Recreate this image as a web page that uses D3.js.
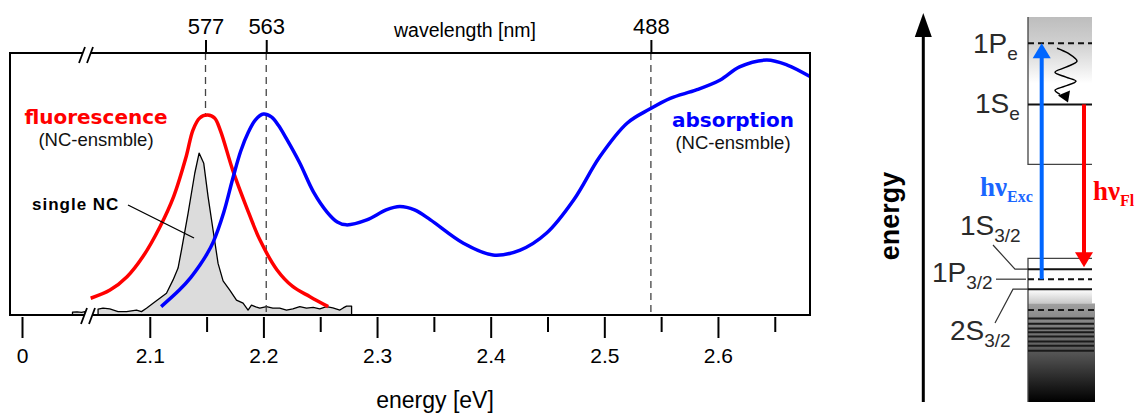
<!DOCTYPE html>
<html>
<head>
<meta charset="utf-8">
<script src="https://cdn.jsdelivr.net/npm/d3@7"></script>
<style>
  body { margin: 0; background: #fff; }
  svg { display: block; }
</style>
</head>
<body>
<div id="chart"></div>
<script>
// ---- data ----
var energyMajor = [0, 2.1, 2.2, 2.3, 2.4, 2.5, 2.6];
var energyMinor = [2.15, 2.25, 2.35, 2.45, 2.55, 2.65];
var wavelengthTicks = [577, 563, 488];

// fluorescence (NC ensemble)
var flEnergy = [2.048, 2.065, 2.080, 2.094, 2.109, 2.121, 2.132, 2.138, 2.144, 2.151, 2.157, 2.162,
                2.173, 2.185, 2.197, 2.212, 2.226, 2.241, 2.257];
var flIntensity = [0.064, 0.095, 0.146, 0.223, 0.337, 0.452, 0.604, 0.706, 0.752, 0.763, 0.752, 0.706,
                   0.553, 0.413, 0.286, 0.172, 0.108, 0.070, 0.032];

// absorption (NC ensemble)
var absEnergy = [2.110, 2.126, 2.136, 2.144, 2.150, 2.156, 2.165, 2.173, 2.180, 2.187, 2.193, 2.200, 2.207, 2.213,
                 2.220, 2.232, 2.244, 2.256, 2.265, 2.273, 2.291, 2.308, 2.320, 2.333, 2.347, 2.376, 2.402,
                 2.426, 2.449, 2.473, 2.496, 2.520, 2.540, 2.558, 2.581, 2.602, 2.619, 2.643, 2.661, 2.681];
var absIntensity = [0.032, 0.095, 0.143, 0.190, 0.230, 0.280, 0.390, 0.520, 0.625, 0.700, 0.745, 0.767, 0.756, 0.725,
                    0.675, 0.580, 0.470, 0.393, 0.355, 0.344, 0.363, 0.401, 0.414, 0.401, 0.363, 0.274, 0.229,
                    0.248, 0.312, 0.439, 0.604, 0.732, 0.786, 0.827, 0.859, 0.897, 0.947, 0.973, 0.954, 0.910];

// single NC spectrum (before and after the axis break)
var ncStubEnergy = [2.032, 2.036, 2.040, 2.043];
var ncStubIntensity = [0.011, 0.012, 0.010, 0.013];
var ncEnergy = [2.0545, 2.0589, 2.0648, 2.0721, 2.0795, 2.0883, 2.0927, 2.0971, 2.1029, 2.1088, 2.1147,
                2.1205, 2.1249, 2.1279, 2.1337, 2.1396, 2.1434, 2.1475, 2.1513, 2.1557, 2.1601, 2.1645,
                2.1704, 2.1763, 2.1821, 2.1865, 2.1895, 2.1933, 2.1968, 2.2027, 2.2083, 2.2144, 2.2203,
                2.2259, 2.2320, 2.2379, 2.2438, 2.2496, 2.2555, 2.2611, 2.2673, 2.2702, 2.2732, 2.2776];
var ncIntensity = [0.022, 0.026, 0.023, 0.013, 0.013, 0.019, 0.013, 0.026, 0.045, 0.064, 0.083,
                   0.134, 0.179, 0.248, 0.388, 0.541, 0.618, 0.579, 0.452, 0.324, 0.197, 0.130,
                   0.095, 0.057, 0.045, 0.019, 0.038, 0.031, 0.026, 0.032, 0.026, 0.026, 0.019,
                   0.023, 0.032, 0.026, 0.029, 0.023, 0.032, 0.027, 0.019, 0.027, 0.034, 0.034];

// energy level scheme (relative energy, 0 = bottom of scheme, 1 = top)
var electronLevels = ['1P', '1S'];
var electronSubs = ['e', 'e'];
var electronValues = [0.932, 0.773];
var electronDashed = [true, false];
var holeLevels = ['1S', '1P', '2S'];
var holeSubs = ['3/2', '3/2', '3/2'];
var holeValues = [0.345, 0.319, 0.293];
var holeDashed = [false, true, false];
var denseValues = [0.239, 0.217, 0.203, 0.191, 0.181, 0.170, 0.157, 0.146, 0.133];
var denseDashed = [true, false, false, false, false, false, false, false, false];
var electronBox = [0.617, 1.0];
var holeBox = [0, 0.373];
var continuumTop = 0.256;

var hc = 1240; // eV*nm

// ---- layout ----
var frame = {left: 10, right: 810, top: 53, bottom: 315};

var svg = d3.select('#chart')
    .append('svg')
    .attr('width', 1138)
    .attr('height', 414)
    .style('font-family', 'Arial, "Liberation Sans", sans-serif');

var defs = svg.append('defs');

var x = d3.scaleLinear()
    .domain([1.977, 2.681])
    .range([frame.left, frame.right]);

var y = d3.scaleLinear()
    .domain([0, 1])
    .range([frame.bottom, frame.top]);

// axis with a break: "0" sits left of the break
var axisX = d3.scaleLinear()
    .domain([0, 2.1, 2.681])
    .range([22, x(2.1), x(2.681)]);

function zip(es, is) {
    return es.map((e, k) => ({e: e, i: is[k]}));
}

var flData = zip(flEnergy, flIntensity);
var absData = zip(absEnergy, absIntensity);
var ncData = zip(ncEnergy, ncIntensity);
var ncStub = zip(ncStubEnergy, ncStubIntensity);

var smooth = d3.line()
    .x(d => x(d.e))
    .y(d => y(d.i))
    .curve(d3.curveCatmullRom.alpha(0.5));

var ncArea = d3.area()
    .x(d => x(d.e))
    .y0(y(0))
    .y1(d => y(d.i));

// single NC (grey filled)
[ncStub, ncData].forEach(function(arr) {
    svg.append('path')
        .datum(arr)
        .attr('d', ncArea)
        .attr('fill', '#dcdcdc')
        .attr('stroke', '#000')
        .attr('stroke-width', 1.3)
        .attr('stroke-linejoin', 'round');
});

// dashed wavelength markers
wavelengthTicks.forEach(function(l, k) {
    var xe = x(hc / l);
    var yEnd = k === 0 ? y(d3.max(flIntensity)) : frame.bottom;
    svg.append('line')
        .attr('x1', xe).attr('x2', xe)
        .attr('y1', frame.top).attr('y2', yEnd)
        .attr('stroke', '#444')
        .attr('stroke-width', 1.3)
        .attr('stroke-dasharray', '7,5');
});

// ensemble spectra
svg.append('path')
    .datum(flData)
    .attr('d', smooth)
    .attr('fill', 'none')
    .attr('stroke', '#ff0000')
    .attr('stroke-width', 3.5);

svg.append('path')
    .datum(absData)
    .attr('d', smooth)
    .attr('fill', 'none')
    .attr('stroke', '#0000ff')
    .attr('stroke-width', 3.5);

// frame
svg.append('rect')
    .attr('x', frame.left)
    .attr('y', frame.top)
    .attr('width', frame.right - frame.left)
    .attr('height', frame.bottom - frame.top)
    .attr('fill', 'none')
    .attr('stroke', '#000')
    .attr('stroke-width', 2);

// axis break marks
function breakMark(xc, yc) {
    svg.append('path')
        .attr('d', 'M' + (xc - 9) + ',' + (yc + 8) + 'L' + (xc - 3) + ',' + (yc - 8) +
                   'L' + (xc + 5) + ',' + (yc - 8) + 'L' + (xc - 1) + ',' + (yc + 8) + 'Z')
        .attr('fill', '#fff');
    [-6, 2].forEach(function(o) {
        svg.append('line')
            .attr('x1', xc + o - 3).attr('y1', yc + 8)
            .attr('x2', xc + o + 3).attr('y2', yc - 8)
            .attr('stroke', '#000')
            .attr('stroke-width', 1.8);
    });
}
breakMark(88, frame.top + 2);
breakMark(90, frame.bottom + 1);

// bottom axis (energy)
var bottomMajor = svg.append('g')
    .attr('transform', 'translate(0,' + (frame.bottom + 2) + ')')
    .call(d3.axisBottom(axisX)
        .tickValues(energyMajor)
        .tickSize(21)
        .tickPadding(10)
        .tickFormat(d => d === 0 ? '0' : d3.format('.1f')(d)));

var bottomMinor = svg.append('g')
    .attr('transform', 'translate(0,' + (frame.bottom + 2) + ')')
    .call(d3.axisBottom(axisX)
        .tickValues(energyMinor)
        .tickSize(15)
        .tickFormat(''));

// top axis (wavelength)
var topAxis = svg.append('g')
    .attr('transform', 'translate(0,' + frame.top + ')')
    .call(d3.axisTop(x)
        .tickValues(wavelengthTicks.map(l => hc / l))
        .tickSize(13)
        .tickPadding(6)
        .tickFormat((d, k) => wavelengthTicks[k]));

[bottomMajor, bottomMinor, topAxis].forEach(function(g) {
    g.select('.domain').remove();
    g.selectAll('.tick line').attr('stroke', '#000').attr('stroke-width', 2);
    g.selectAll('.tick text')
        .attr('fill', '#000')
        .style('font-family', 'Arial, "Liberation Sans", sans-serif')
        .style('font-size', '21px');
});
topAxis.selectAll('.tick text').style('font-size', '22px');

svg.append('text')
    .attr('x', 435).attr('y', 408)
    .attr('text-anchor', 'middle')
    .style('font-size', '23px')
    .text('energy [eV]');

svg.append('text')
    .attr('x', 465).attr('y', 37)
    .attr('text-anchor', 'middle')
    .style('font-size', '19.5px')
    .text('wavelength [nm]');

// curve labels
function seriesLabel(cx, y1, title, color) {
    svg.append('text')
        .attr('x', cx).attr('y', y1)
        .attr('text-anchor', 'middle')
        .attr('fill', color)
        .style('font-family', '"DejaVu Sans", Verdana, sans-serif')
        .style('font-weight', 'bold')
        .style('font-size', '20px')
        .text(title);
    svg.append('text')
        .attr('x', cx).attr('y', y1 + 22)
        .attr('text-anchor', 'middle')
        .attr('fill', '#111')
        .style('font-size', '18.5px')
        .text('(NC-ensmble)');
}
seriesLabel(96, 124, 'fluorescence', '#ff0000');
seriesLabel(733, 127, 'absorption', '#0000ff');

svg.append('text')
    .attr('x', 32).attr('y', 210)
    .attr('fill', '#000')
    .style('font-weight', 'bold')
    .style('font-size', '17px')
    .style('letter-spacing', '1px')
    .text('single NC');

svg.append('line')
    .attr('x1', 128).attr('y1', 205)
    .attr('x2', 194).attr('y2', 238)
    .attr('stroke', '#000')
    .attr('stroke-width', 1.3);

// ---- energy level scheme ----
var yD = d3.scaleLinear().domain([0, 1]).range([402, 17]);
var boxL = 1028, boxR = 1092, contR = 1095;

function grad(id, stops) {
    var g = defs.append('linearGradient')
        .attr('id', id)
        .attr('x1', 0).attr('y1', 0).attr('x2', 0).attr('y2', 1);
    stops.forEach(function(s) {
        g.append('stop').attr('offset', s[0]).attr('stop-color', s[1]);
    });
}
grad('eGrad', [['0%', '#bdbdbd'], ['18%', '#d0d0d0'], ['45%', '#ffffff'], ['100%', '#ffffff']]);
grad('hLight', [['0%', '#ffffff'], ['100%', '#c8c8c8']]);
grad('hDark', [['0%', '#a0a0a0'], ['45%', '#5e5e5e'], ['100%', '#000000']]);

// electron box
svg.append('rect')
    .attr('x', boxL).attr('y', yD(electronBox[1]))
    .attr('width', boxR - boxL)
    .attr('height', yD(electronBox[0]) - yD(electronBox[1]))
    .attr('fill', 'url(#eGrad)');
svg.append('path')
    .attr('d', 'M' + boxR + ',' + yD(electronBox[0]) + 'H' + boxL + 'V' + yD(electronBox[1]))
    .attr('fill', 'none')
    .attr('stroke', '#444')
    .attr('stroke-width', 1.3);

// hole box
svg.append('rect')
    .attr('x', boxL).attr('y', yD(holeValues[2]))
    .attr('width', boxR - boxL)
    .attr('height', yD(continuumTop) - yD(holeValues[2]))
    .attr('fill', 'url(#hLight)');
svg.append('rect')
    .attr('x', boxL).attr('y', yD(continuumTop))
    .attr('width', contR - boxL)
    .attr('height', yD(holeBox[0]) - yD(continuumTop))
    .attr('fill', 'url(#hDark)');
svg.append('path')
    .attr('d', 'M' + boxR + ',' + yD(holeBox[1]) + 'H' + boxL + 'V' + yD(holeBox[0]))
    .attr('fill', 'none')
    .attr('stroke', '#444')
    .attr('stroke-width', 1.3);

function levelLine(v, dashed, right, color) {
    svg.append('line')
        .attr('x1', boxL).attr('x2', right)
        .attr('y1', yD(v)).attr('y2', yD(v))
        .attr('stroke', color)
        .attr('stroke-width', 2)
        .attr('stroke-dasharray', dashed ? '6,4' : null);
}
electronValues.forEach((v, k) => levelLine(v, electronDashed[k], boxR, '#111'));
holeValues.forEach((v, k) => levelLine(v, holeDashed[k], boxR, '#111'));
denseValues.forEach((v, k) => levelLine(v, denseDashed[k], contR - 1, '#1a1a1a'));

// level labels
var electronLabelPos = [[973, 10], [975, 9]];
var holeLabelPos = [[960, 235], [932, 282], [950, 340]];
var holeLeaders = [[[993, 245], [1015], [1028]], [[996], [1026]], [[995, 323], [1013], [1028]]];

function levelLabel(tx, ty, main, sub) {
    var t = svg.append('text')
        .attr('x', tx).attr('y', ty)
        .attr('fill', '#2a2a2a')
        .style('font-size', '28px');
    t.append('tspan').text(main);
    t.append('tspan')
        .attr('dy', 7)
        .style('font-size', '19px')
        .text(sub);
}
electronLevels.forEach(function(n, k) {
    levelLabel(electronLabelPos[k][0], yD(electronValues[k]) + electronLabelPos[k][1], n, electronSubs[k]);
});
holeLevels.forEach(function(n, k) {
    levelLabel(holeLabelPos[k][0], holeLabelPos[k][1], n, holeSubs[k]);
    var pts = holeLeaders[k].map(p => [p[0], p.length > 1 ? p[1] : yD(holeValues[k])]);
    svg.append('path')
        .attr('d', d3.line()(pts))
        .attr('fill', 'none')
        .attr('stroke', '#333')
        .attr('stroke-width', 1.2);
});

// arrows
function arrow(xa, yFrom, yTo, color, width, headW, headL) {
    var dir = yTo < yFrom ? -1 : 1;
    svg.append('line')
        .attr('x1', xa).attr('x2', xa)
        .attr('y1', yFrom).attr('y2', yTo - dir * headL * 0.6)
        .attr('stroke', color)
        .attr('stroke-width', width);
    svg.append('path')
        .attr('d', 'M' + xa + ',' + yTo +
                   'L' + (xa - headW / 2) + ',' + (yTo - dir * headL) +
                   'L' + (xa + headW / 2) + ',' + (yTo - dir * headL) + 'Z')
        .attr('fill', color);
}

// energy axis arrow
arrow(923.3, yD(0), 13, '#000', 3, 17, 24);
svg.append('text')
    .attr('transform', 'translate(899,216) rotate(-90)')
    .attr('text-anchor', 'middle')
    .style('font-weight', 'bold')
    .style('font-size', '27px')
    .text('energy');

// excitation and emission
arrow(1041.7, yD(holeValues[1]), yD(electronValues[0]), '#0066ff', 4, 18, 15);
arrow(1084, yD(electronValues[1]), yD(holeValues[0]) - 2, '#ff0000', 4, 18, 15);

// relaxation (wavy arrow) from 1Pe to 1Se
var wy0 = yD(electronValues[0]) + 5, wy1 = yD(electronValues[1]) - 4;
var wavePts = [[1057, wy0], [1068, wy0 + 5], [1077, wy0 + 13], [1066, wy0 + 19], [1055, wy0 + 24],
               [1066, wy0 + 29], [1076, wy0 + 33], [1065, wy0 + 38], [1055, wy0 + 42], [1060, wy1 - 6]];
svg.append('path')
    .attr('d', d3.line().curve(d3.curveCatmullRom)(wavePts))
    .attr('fill', 'none')
    .attr('stroke', '#000')
    .attr('stroke-width', 1.5);
svg.append('path')
    .attr('d', 'M1068,' + (wy1 + 2) + 'L1058,' + (wy1 - 5) + 'L1070,' + (wy1 - 10) + 'Z')
    .attr('fill', '#000');

function hnu(tx, ty, sub, color) {
    var t = svg.append('text')
        .attr('x', tx).attr('y', ty)
        .attr('fill', color)
        .style('font-family', '"Liberation Serif", "Times New Roman", serif')
        .style('font-weight', 'bold')
        .style('font-size', '27px');
    t.append('tspan').text('h\u03bd');
    t.append('tspan').attr('dy', 6).style('font-size', '16px').text(sub);
}
hnu(980, 196, 'Exc', '#1a66ff');
hnu(1093, 200, 'Fl', '#ff0000');
</script>
</body>
</html>
